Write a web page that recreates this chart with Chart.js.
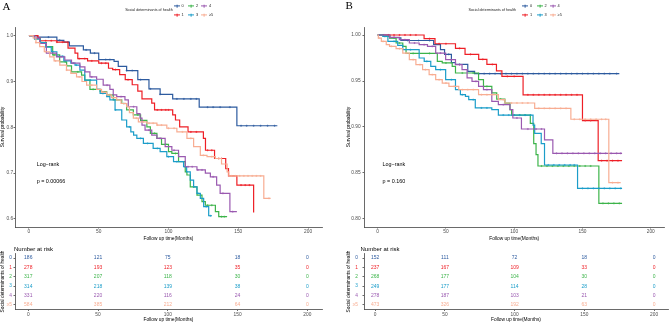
<!DOCTYPE html>
<html><head><meta charset="utf-8">
<script src="https://cdn.jsdelivr.net/npm/chart.js@4.4.0/dist/chart.umd.min.js"></script>
<style>
html,body{margin:0;padding:0;background:#fff;}
body{width:669px;height:323px;position:relative;overflow:hidden;font-family:"Liberation Sans",Arial,sans-serif;}
canvas{position:absolute;}
.t{position:absolute;white-space:nowrap;color:#000;line-height:1;}
.panel{font-family:"Liberation Serif","Times New Roman",serif;font-size:11px;}
.nar{font-size:6px;}
.lgt{font-size:3.7px;color:#222;transform:translateY(-50%);}
.lgl{font-size:3.9px;color:#222;transform:translateY(-50%);}
.key{position:absolute;height:1.2px;transform:translateY(-50%);}
.keyv{position:absolute;width:0.8px;height:2.6px;transform:translate(-50%,-50%);}
</style></head>
<body>
<canvas id="kmA" width="334" height="245" style="left:0;top:0"></canvas>
<canvas id="rkA" width="334" height="78" style="left:0;top:245px"></canvas>
<canvas id="kmB" width="335" height="245" style="left:334px;top:0"></canvas>
<canvas id="rkB" width="335" height="78" style="left:334px;top:245px"></canvas>
<div class="t panel" style="left:2.5px;top:0.5px">A</div>
<div class="t panel" style="left:345.5px;top:0px">B</div>
<div class="t nar" style="left:14px;top:245.5px">Number at risk</div>
<div class="t nar" style="left:360.5px;top:245.5px">Number at risk</div>
<div id="legends"></div>
<script>
const groups = ['0','1','2','3','4','\u22655'];
const colors = ['#2D5B9F','#EE1F26','#3CB44A','#1B9DC9','#9A59B0','#F8AD92'];
const xTicks = [0,50,100,150,200];
const yTicksA = [0.6,0.7,0.8,0.9,1.0];
const yTicksB = [0.80,0.85,0.90,0.95,1.00];
const riskTimes = [0,50,100,150,200];
const legendTitle = 'Social determinants of health';
const xTitle = 'Follow up time(Months)';
const yTitle = 'Survival probability';
const pA = 'p = 0.00066';
const pB = 'p = 0.160';

// Panel A: Kaplan-Meier steps [months, survival]
const kmA0 = [[0,1],[6,0.997],[20,0.99],[25,0.986],[29,0.978],[39,0.969],[44,0.962],[50,0.948],[61,0.944],[64,0.933],[70,0.924],[78,0.904],[86,0.884],[94,0.872],[103,0.862],[122,0.844],[149,0.8035],[178,0.8035]];
const kmA1 = [[0,1],[6.5,0.995],[8,0.989],[20,0.986],[28,0.973],[33,0.962],[35,0.95],[42,0.945],[50,0.94],[57,0.929],[60,0.926],[65,0.915],[69,0.904],[74,0.893],[78,0.879],[81,0.862],[88,0.853],[90,0.838],[103,0.827],[105,0.816],[108,0.801],[114,0.79],[125,0.776],[126.5,0.75],[133,0.732],[141,0.71],[143,0.694],[149,0.674],[161,0.614]];
const kmA2 = [[0,1],[4,0.993],[8,0.985],[12.5,0.976],[17,0.958],[22,0.943],[27,0.934],[30.5,0.921],[37.7,0.914],[40,0.903],[43.7,0.883],[51,0.878],[55.7,0.871],[60.4,0.86],[66.5,0.852],[70,0.838],[74.8,0.827],[80,0.815],[84.5,0.801],[87,0.787],[91.7,0.776],[95,0.763],[100,0.747],[102.4,0.743],[107.2,0.725],[112,0.703],[113.2,0.696],[115.6,0.67],[120.4,0.652],[124,0.638],[126.4,0.63],[133.6,0.616],[136,0.605],[142,0.605]];
const kmA3 = [[0,1],[4,0.993],[8,0.985],[12,0.975],[16,0.965],[20,0.955],[25,0.945],[30,0.94],[33,0.936],[36.5,0.925],[40,0.903],[48.5,0.883],[51,0.874],[55.7,0.867],[58,0.86],[61.7,0.838],[66.5,0.816],[70,0.801],[73,0.79],[75,0.783],[77.3,0.776],[82,0.765],[89,0.754],[94,0.747],[98.8,0.736],[103.6,0.725],[110.8,0.714],[113,0.703],[115.6,0.685],[118,0.67],[120.4,0.656],[122.8,0.645],[125.2,0.627],[128.8,0.607],[131.2,0.607]];
const kmA4 = [[0,1],[4,0.995],[7.7,0.983],[12.5,0.962],[19.7,0.954],[25.7,0.947],[30.5,0.94],[36.5,0.932],[40.1,0.921],[43.7,0.91],[48.5,0.905],[53.2,0.892],[58,0.883],[60.4,0.871],[62.9,0.867],[68.8,0.86],[71.2,0.845],[77.3,0.83],[79.6,0.82],[81,0.805],[83.2,0.794],[88,0.783],[91.7,0.776],[97.6,0.758],[102.4,0.75],[107.2,0.736],[112,0.714],[120.4,0.707],[126.4,0.7],[130,0.692],[134.5,0.674],[137,0.656],[144,0.616],[149,0.616]];
const kmA5 = [[0,1],[3,0.995],[5,0.985],[7.7,0.976],[11,0.965],[14.9,0.954],[18,0.945],[22.1,0.936],[26.9,0.925],[30,0.918],[34.1,0.91],[38,0.9],[41.3,0.892],[48.5,0.883],[52,0.877],[55.7,0.871],[59,0.865],[62.9,0.86],[66,0.852],[70,0.845],[72,0.832],[74.8,0.82],[78.4,0.812],[84.5,0.809],[91.7,0.805],[98.8,0.798],[106,0.79],[113.2,0.776],[118,0.758],[122.8,0.739],[127.6,0.736],[133.6,0.732],[138,0.72],[142,0.703],[143.2,0.694],[168.3,0.645],[173.2,0.645]];

// Panel A: censoring times (months)
const censA0 = [14,22,28,41,47,55,58,70,74,80,87,94,106,111,116,120,128,132,137,144,152,156,161,166,171,176];
const censA1 = [8,12,16,20,24,36,40,45,52,55,62,71,92,95,98,100,116,120,128,131,136,138,152,155,158];
const censA2 = [10,18,26,35,46,58,68,78,90,98,105,118,128,131,138,140];
const censA3 = [9,17,24,34,44,53,62,72,80,85,92,100,106,112,121,127,130];
const censA4 = [6,15,23,32,45,56,66,75,86,94,104,114,117,121,124,132,139,146];
const censA5 = [5,12,19,27,36,45,53,61,69,77,82,86,89,92,95,100,104,110,116,125,131,136,145,148,151,154,157,160,163,166,172];

// Panel B: Kaplan-Meier steps
const kmB0 = [[0,1],[9,0.997],[17,0.994],[41,0.9895],[46,0.984],[49,0.979],[54,0.97],[57,0.968],[66,0.9605],[71,0.958],[177,0.958]];
const kmB1 = [[0,1],[34,0.996],[42,0.9905],[57,0.9855],[64,0.979],[74,0.9735],[80,0.968],[87,0.961],[91,0.955],[106.5,0.935],[150,0.907],[161.5,0.8634],[179,0.8634]];
const kmB2 = [[0,1],[4,0.9986],[8.7,0.9967],[13.5,0.9913],[18.4,0.9877],[20.8,0.98],[43.7,0.9714],[47.3,0.9696],[54.6,0.966],[57,0.9587],[73.9,0.9514],[77.5,0.9442],[83.6,0.937],[87.2,0.9304],[93.2,0.926],[96.9,0.9188],[98.1,0.913],[111.8,0.904],[114.3,0.882],[116,0.87],[117.4,0.8576],[162,0.817],[179,0.817]];
const kmB3 = [[0,1],[3.9,0.9986],[7.5,0.9931],[14.7,0.9888],[18.4,0.984],[30.4,0.975],[34.1,0.9714],[38.9,0.966],[42.5,0.9623],[49.8,0.9514],[57,0.9406],[60.6,0.9351],[64.3,0.9333],[66.7,0.9297],[71.5,0.9207],[83.6,0.9188],[88.4,0.913],[113.8,0.902],[115,0.893],[119.8,0.882],[122.2,0.8587],[146.4,0.8333],[179,0.8333]];
const kmB4 = [[0,1],[8.7,0.9975],[15.9,0.9949],[23.2,0.9913],[30.4,0.9895],[36.5,0.9877],[42.5,0.9804],[49.8,0.9732],[57,0.9678],[61.8,0.9623],[65.5,0.9533],[69.1,0.9496],[73.9,0.9442],[77.5,0.9406],[83.6,0.9279],[88.4,0.9243],[96.9,0.9188],[99,0.9098],[105.3,0.8978],[122.2,0.8859],[128.3,0.8714],[179,0.8714]];
const kmB5 = [[0,1],[0.5,0.9967],[2.7,0.9931],[6.3,0.9895],[8.7,0.9877],[13.5,0.9851],[18.4,0.9804],[23.2,0.9732],[28,0.9678],[32.9,0.9623],[37.7,0.9569],[42.5,0.9514],[47.3,0.9478],[52.2,0.9442],[59.4,0.9406],[73.9,0.9351],[88.4,0.9297],[93.2,0.9261],[115,0.9203],[141.5,0.9084],[169.3,0.8395],[178,0.8395]];

// Panel B: censoring times
const censB0 = [12,22,30,38,52,60,74,78,82,86,90,94,98,102,106,110,114,118,122,126,130,134,138,142,146,150,154,158,162,166,170,175];
const censB1 = [4,8,12,16,20,24,28,38,45,50,60,68,77,84,95,100,110,114,118,122,126,130,134,138,142,146,152,156,164,168,172,176];
const censB2 = [6,16,26,38,50,62,70,80,90,100,104,108,120,124,128,132,136,140,144,148,152,156,165,169,173,177];
const censB3 = [5,12,24,36,46,54,62,70,76,80,92,96,100,104,108,112,125,129,133,137,141,144,150,154,158,162,166,170,174,178];
const censB4 = [5,12,20,27,34,40,46,54,60,72,80,92,102,110,116,120,131,135,139,143,147,151,155,159,163,167,171,175,178];
const censB5 = [1,4,10,16,21,26,31,35,40,45,50,56,62,66,70,76,80,84,92,98,102,106,110,118,122,126,130,134,138,144,148,152,156,160,164,167,172,176];

// Number at risk
const riskA0 = [186,121,75,18,0];
const riskA1 = [278,193,123,35,0];
const riskA2 = [317,207,118,30,0];
const riskA3 = [314,218,139,38,0];
const riskA4 = [331,220,116,24,0];
const riskA5 = [584,385,212,64,0];
const riskB0 = [152,111,72,18,0];
const riskB1 = [237,167,109,33,0];
const riskB2 = [268,177,104,30,0];
const riskB3 = [249,177,114,28,0];
const riskB4 = [278,187,103,21,0];
const riskB5 = [473,326,192,63,0];

const FF = '"Liberation Sans", Arial, sans-serif';
const AX = '#444';
const TK = '#4d4d4d';

function stepAt(steps, t){ let v = steps[0][1]; for (const p of steps){ if (p[0] <= t) v = p[1]; else break; } return v; }

function axisStyle(){
  return {
    grid:{display:true, drawOnChartArea:false, drawTicks:true, tickLength:1.5, color:AX, tickColor:AX, lineWidth:0.8, tickWidth:0.8},
    border:{display:true, color:AX, width:0.8}
  };
}

const textPlugin = {
  id:'kmText',
  afterDatasetsDraw(chart, args, opts){
    if (!opts || !opts.items) return;
    const ctx = chart.ctx, xs = chart.scales.x, ys = chart.scales.y;
    ctx.save();
    ctx.font = '5.4px ' + FF; ctx.fillStyle = '#000'; ctx.textAlign = 'left'; ctx.textBaseline = 'middle';
    opts.items.forEach(it => ctx.fillText(it.text, xs.getPixelForValue(it.x), ys.getPixelForValue(it.y)));
    ctx.restore();
  }
};

function makeKM(id, steps, cens, cfg){
  const datasets = [];
  steps.forEach((st, g) => {
    datasets.push({data: st.map(p => ({x:p[0], y:p[1]})), borderColor: colors[g], borderWidth: 1.2,
      stepped: true, pointRadius: 0, fill: false, tension: 0, order: 2*(groups.length-g)+1});
    datasets.push({data: cens[g].map(t => ({x:t, y:stepAt(st, t)})), showLine: false, pointStyle: 'cross',
      pointRadius: 1.05, pointBorderWidth: 0.6, pointBorderColor: colors[g], borderColor: colors[g],
      pointBackgroundColor: colors[g], order: 2*(groups.length-g)});
  });
  const ax = axisStyle(), ay = axisStyle();
  new Chart(document.getElementById(id), {
    type: 'line',
    data: {datasets},
    options: {
      responsive: false, animation: false, devicePixelRatio: 1,
      layout: {padding: {left: 0, right: cfg.padRight, top: 27, bottom: 0}},
      plugins: {legend: {display: false}, tooltip: {enabled: false}, kmText: {items: cfg.notes}},
      scales: {
        x: Object.assign(ax, {type: 'linear', min: -10, max: 210,
          afterBuildTicks: s => { s.ticks = xTicks.map(v => ({value: v})); },
          afterFit: s => { s.height = 18; },
          ticks: {font: {size: 4.8, family: FF}, color: TK, padding: 0.3, maxRotation: 0, autoSkip: false},
          title: {display: true, text: xTitle, font: {size: 4.8, family: FF}, color: '#000', padding: {top: 0, bottom: 3.8}}}),
        y: Object.assign(ay, {type: 'linear', min: cfg.yMin, max: cfg.yMax,
          afterBuildTicks: s => { s.ticks = cfg.yTicks.map(v => ({value: v})); },
          afterFit: s => { s.width = cfg.yW; },
          ticks: {font: {size: 4.8, family: FF}, color: TK, padding: cfg.yPad, autoSkip: false, callback: v => Number(v).toFixed(cfg.dec)},
          title: {display: true, text: yTitle, font: {size: 4.8, family: FF}, color: '#000', padding: {top: cfg.tPad, bottom: 0}}})
      }
    },
    plugins: [textPlugin]
  });
}

const riskPlugin = {
  id: 'riskText',
  afterDatasetsDraw(chart){
    const ctx = chart.ctx;
    ctx.save();
    ctx.font = '5px ' + FF; ctx.textAlign = 'center'; ctx.textBaseline = 'middle';
    chart.data.datasets.forEach((ds, i) => {
      const meta = chart.getDatasetMeta(i);
      ctx.fillStyle = ds.textColor;
      meta.data.forEach((el, j) => ctx.fillText(String(ds.data[j].n), el.x, el.y));
    });
    ctx.restore();
  }
};

function makeRisk(id, risk, cfg){
  const ax = axisStyle(), ay = axisStyle();
  new Chart(document.getElementById(id), {
    type: 'scatter',
    data: {datasets: groups.map((g, i) => ({data: riskTimes.map((t, j) => ({x: t, y: g, n: risk[i][j]})), pointRadius: 0, textColor: colors[i]}))},
    options: {
      responsive: false, animation: false, devicePixelRatio: 1,
      layout: {padding: {left: 0, right: cfg.padRight, top: 8.4, bottom: 0}},
      plugins: {legend: {display: false}, tooltip: {enabled: false}},
      scales: {
        x: Object.assign(ax, {type: 'linear', min: cfg.xMin, max: cfg.xMax,
          afterBuildTicks: s => { s.ticks = xTicks.map(v => ({value: v})); },
          afterFit: s => { s.height = 13.5; },
          ticks: {font: {size: 4.8, family: FF}, color: TK, padding: 0.4, maxRotation: 0, autoSkip: false},
          title: {display: true, text: xTitle, font: {size: 4.8, family: FF}, color: '#000', padding: {top: 0, bottom: 0.8}}}),
        y: Object.assign(ay, {type: 'category', labels: groups, offset: true,
          afterFit: s => { s.width = cfg.yW; },
          ticks: {font: {size: 4.8, family: FF}, color: c => colors[c.index], padding: cfg.yPad, autoSkip: false},
          title: {display: true, text: legendTitle, font: {size: 4.8, family: FF}, color: '#000', padding: {top: cfg.tPad, bottom: 0}}})
      }
    },
    plugins: [riskPlugin]
  });
}

makeKM('kmA', [kmA0,kmA1,kmA2,kmA3,kmA4,kmA5], [censA0,censA1,censA2,censA3,censA4,censA5],
  {padRight: 12, yMin: 0.5825, yMax: 1.019, yTicks: yTicksA, dec: 1, yW: 15, yPad: 0.3, tPad: 0.2,
   notes: [{text: 'Log\u2212rank', x: 5.5, y: 0.719}, {text: pA, x: 5.5, y: 0.681}]});
makeKM('kmB', [kmB0,kmB1,kmB2,kmB3,kmB4,kmB5], [censB0,censB1,censB2,censB3,censB4,censB5],
  {padRight: 1, yMin: 0.7913, yMax: 1.0087, yTicks: yTicksB, dec: 2, yW: 30, yPad: 1.8, tPad: 12,
   notes: [{text: 'Log\u2212rank', x: 3.6, y: 0.8595}, {text: pB, x: 3.6, y: 0.8405}]});
makeRisk('rkA', [riskA0,riskA1,riskA2,riskA3,riskA4,riskA5], {padRight: 12, xMin: -9.5, xMax: 210.5, yW: 15, yPad: 1.5, tPad: 0.2});
makeRisk('rkB', [riskB0,riskB1,riskB2,riskB3,riskB4,riskB5], {padRight: 1, xMin: -8, xMax: 210, yW: 30, yPad: 4.5, tPad: 12});

// Legends (ggplot-style: title at left, 3 columns x 2 rows of keys)
function makeLegend(titleRight, colX){
  const root = document.getElementById('legends');
  const rowY = [6, 15.3];
  const title = document.createElement('div');
  title.className = 't lgt';
  title.textContent = legendTitle;
  title.style.top = '10.8px';
  root.appendChild(title);
  title.style.left = (titleRight - title.getBoundingClientRect().width) + 'px';
  groups.forEach((g, i) => {
    const c = Math.floor(i / 2), r = i % 2;
    const k = document.createElement('div');
    k.className = 'key'; k.style.background = colors[i];
    k.style.left = colX[c] + 'px'; k.style.top = rowY[r] + 'px'; k.style.width = '6px';
    root.appendChild(k);
    const kv = document.createElement('div');
    kv.className = 'keyv'; kv.style.background = colors[i];
    kv.style.left = (colX[c] + 3) + 'px'; kv.style.top = rowY[r] + 'px';
    root.appendChild(kv);
    const l = document.createElement('div');
    l.className = 't lgl'; l.textContent = g;
    l.style.left = (colX[c] + 7.6) + 'px'; l.style.top = rowY[r] + 'px';
    root.appendChild(l);
  });
}
makeLegend(172.7, [174, 188.3, 201.3]);
makeLegend(516, [522.3, 537, 550]);
</script>
</body></html>
